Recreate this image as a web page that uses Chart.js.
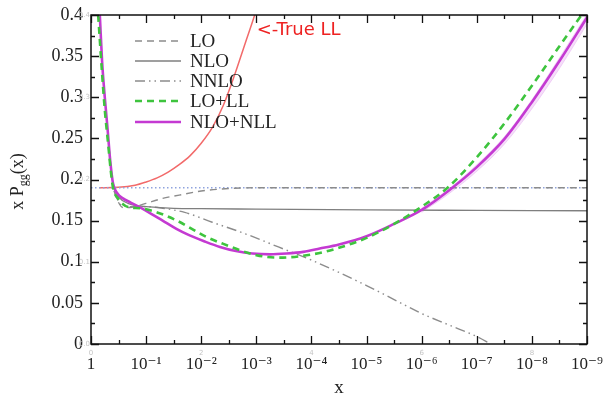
<!DOCTYPE html>
<html>
<head>
<meta charset="utf-8">
<script src="https://cdn.jsdelivr.net/npm/chart.js@4.4.1/dist/chart.umd.min.js"></script>
<style>
  html, body { margin: 0; padding: 0; background: #fff; }
</style>
</head>
<body>
<canvas id="pgg-chart" width="605" height="401"></canvas>
<script>
// x axis is in decades: d = log10(1/x), so d = 0 is x = 1 and d = 9 is x = 1e-9
const decadeTicks = [0, 1, 2, 3, 4, 5, 6, 7, 8, 9];
const yTicks = [0, 0.05, 0.1, 0.15, 0.2, 0.25, 0.3, 0.35, 0.4];
const legendLabels = ['LO', 'NLO', 'NNLO', 'LO+LL', 'NLO+NLL'];

const loDec = [0.42, 0.5, 0.58, 0.7, 0.85, 1.0, 1.3, 1.6, 2.0, 2.5, 3.0, 4.0, 6.0, 9.0];
const loVal = [0.186, 0.172, 0.166, 0.166, 0.168, 0.171, 0.177, 0.181, 0.186, 0.189, 0.190, 0.190, 0.190, 0.190];

const nloDec = [0.4, 0.5, 0.67, 0.85, 1.0, 1.5, 2.0, 3.0, 5.0, 7.0, 9.0];
const nloVal = [0.192, 0.179, 0.171, 0.168, 0.167, 0.165, 0.1645, 0.164, 0.163, 0.1625, 0.162];

const nnloDec = [0.42, 0.5, 0.56, 0.8, 1.0, 1.3, 1.7, 2.2, 2.8, 3.4, 4.0, 4.5, 5.0, 5.5, 6.0, 6.5, 7.0, 7.25];
const nnloVal = [0.186, 0.173, 0.168, 0.167, 0.167, 0.165, 0.160, 0.148, 0.134, 0.118, 0.102, 0.087, 0.071, 0.054, 0.037, 0.023, 0.009, 0.0];

const loLlDec = [0.13, 0.2, 0.25, 0.31, 0.36, 0.4, 0.5, 0.6, 0.7, 0.89, 1.2, 1.56, 2.1, 2.39, 3.0, 3.42, 4.02, 4.5, 5.0, 5.5, 6.0, 6.47, 7.0, 7.5, 8.0, 8.5, 8.9];
const loLlVal = [0.4, 0.33, 0.285, 0.244, 0.21, 0.19, 0.176, 0.169, 0.166, 0.165, 0.160, 0.150, 0.130, 0.122, 0.108, 0.105, 0.109, 0.117, 0.129, 0.146, 0.167, 0.19, 0.227, 0.268, 0.314, 0.362, 0.4];

const nloNllDec = [0.16, 0.2, 0.25, 0.3, 0.35, 0.4, 0.48, 0.58, 0.72, 0.89, 1.1, 1.3, 1.55, 1.79, 2.05, 2.34, 2.63, 2.93, 3.25, 3.55, 3.85, 4.15, 4.5, 5.0, 5.5, 6.0, 6.5, 7.0, 7.5, 8.0, 8.5, 9.0];
const nloNllVal = [0.40, 0.345, 0.30, 0.262, 0.222, 0.195, 0.183, 0.177, 0.172, 0.166, 0.158, 0.150, 0.140, 0.132, 0.125, 0.118, 0.113, 0.110, 0.109, 0.110, 0.112, 0.116, 0.121, 0.131, 0.146, 0.163, 0.187, 0.215, 0.249, 0.294, 0.344, 0.397];

// uncertainty band around NLO+NLL (only visible at small x)
const bandDec = [6.0, 6.5, 7.0, 7.5, 8.0, 8.5, 9.0];
const bandUpper = [0.165, 0.189, 0.218, 0.252, 0.297, 0.348, 0.401];
const bandLower = [0.160, 0.183, 0.210, 0.243, 0.286, 0.335, 0.389];

const trueLlDec = [0.15, 0.5, 0.8, 1.0, 1.2, 1.4, 1.6, 1.8, 2.0, 2.2, 2.4, 2.6, 2.8, 2.97, 3.05];
const trueLlVal = [0.19, 0.1905, 0.193, 0.197, 0.202, 0.209, 0.218, 0.229, 0.244, 0.263, 0.290, 0.326, 0.366, 0.40, 0.418];

const asymDec = [0, 9];
const asymVal = [0.19, 0.19];

const pts = (xs, ys) => xs.map((x, i) => ({ x: x, y: ys[i] }));

const SUP = { '-': '\u207B', '0': '\u2070', '1': '\u00B9', '2': '\u00B2', '3': '\u00B3', '4': '\u2074',
              '5': '\u2075', '6': '\u2076', '7': '\u2077', '8': '\u2078', '9': '\u2079' };
function decadeLabel(d) {
    if (d === 0) return '1';
    return '10' + String(-d).split('').map(c => SUP[c]).join('');
}

const serif = '"Liberation Serif", "DejaVu Serif", serif';

// frame with inward ticks on all four sides, plus legend and annotations
const decorations = {
    id: 'decorations',
    afterDraw(chart) {
        const ctx = chart.ctx;
        const xs = chart.scales.x, ys = chart.scales.y;
        const L = chart.chartArea.left, R = chart.chartArea.right;
        const T = chart.chartArea.top, B = chart.chartArea.bottom;

        ctx.save();
        ctx.strokeStyle = '#111';
        ctx.lineWidth = 1.5;
        ctx.strokeRect(L, T, R - L, B - T);

        ctx.lineWidth = 1.3;
        ctx.beginPath();
        for (let d = 0; d <= 9; d += 0.5) {
            const px = Math.round(xs.getPixelForValue(d)) + 0.5;
            const len = Number.isInteger(d) ? 8 : 4;
            ctx.moveTo(px, B); ctx.lineTo(px, B - len);
            ctx.moveTo(px, T); ctx.lineTo(px, T + len);
        }
        for (let k = 0; k <= 16; k++) {
            const py = Math.round(ys.getPixelForValue(k * 0.025)) + 0.5;
            const len = k % 2 === 0 ? 8 : 4;
            ctx.moveTo(L, py); ctx.lineTo(L + len, py);
            ctx.moveTo(R, py); ctx.lineTo(R - len, py);
        }
        ctx.stroke();

        // faint leftover labels from the original plot
        ctx.fillStyle = '#c4c4c4';
        ctx.font = '7px "DejaVu Sans", sans-serif';
        ctx.textBaseline = 'middle';
        ctx.textAlign = 'center';
        [0, 2, 4, 6, 8].forEach(d => ctx.fillText(String(d), xs.getPixelForValue(d), B + 9));
        ctx.textAlign = 'right';
        [0, 0.1, 0.2, 0.3, 0.4].forEach(v => ctx.fillText(v.toFixed(1), L - 1, ys.getPixelForValue(v)));

        // legend
        const rowsY = [41, 61, 81, 101, 122];
        legendLabels.forEach((lab, i) => {
            const ds = chart.data.datasets.find(s => s.label === lab);
            ctx.strokeStyle = ds.borderColor;
            ctx.lineWidth = ds.borderWidth;
            ctx.setLineDash(ds.borderDash || []);
            ctx.beginPath();
            ctx.moveTo(135, rowsY[i]);
            ctx.lineTo(181, rowsY[i]);
            ctx.stroke();
            ctx.setLineDash([]);
            ctx.fillStyle = '#222';
            ctx.font = '19px ' + serif;
            ctx.textAlign = 'left';
            ctx.textBaseline = 'middle';
            ctx.fillText(lab, 190, rowsY[i] + 1);
        });

        // True LL annotation
        ctx.fillStyle = '#ee2222';
        ctx.font = '18px "DejaVu Sans", sans-serif';
        ctx.textAlign = 'left';
        ctx.textBaseline = 'middle';
        ctx.fillText('<-True LL', xs.getPixelForValue(2.97) + 2, ys.getPixelForValue(0.381));

        // y title with subscript
        ctx.fillStyle = '#222';
        ctx.translate(23, (T + B) / 2 + 2);
        ctx.rotate(-Math.PI / 2);
        const big = '18px ' + serif, small = '12px ' + serif;
        ctx.font = big;
        const w1 = ctx.measureText('x P').width, w3 = ctx.measureText('(x)').width;
        ctx.font = small;
        const w2 = ctx.measureText('gg').width;
        let x0 = -(w1 + w2 + w3) / 2;
        ctx.textBaseline = 'alphabetic';
        ctx.font = big;
        ctx.fillText('x P', x0, 0);
        ctx.font = small;
        ctx.fillText('gg', x0 + w1, 4);
        ctx.font = big;
        ctx.fillText('(x)', x0 + w1 + w2, 0);
        ctx.restore();
    }
};

const ctx = document.getElementById('pgg-chart').getContext('2d');

new Chart(ctx, {
    type: 'line',
    data: {
        datasets: [
            {
                label: 'band-lower', data: pts(bandDec, bandLower),
                borderColor: 'rgba(220,150,235,0.35)', borderWidth: 1,
                backgroundColor: 'rgba(220,150,235,0.35)', fill: false, order: 11
            },
            {
                label: 'band-upper', data: pts(bandDec, bandUpper),
                borderColor: 'rgba(220,150,235,0.35)', borderWidth: 1,
                backgroundColor: 'rgba(225,160,238,0.35)', fill: '-1', order: 10
            },
            {
                label: 'True LL', data: pts(trueLlDec, trueLlVal),
                borderColor: '#f26a6a', borderWidth: 1.5, order: 9
            },
            {
                label: 'asymptote', data: pts(asymDec, asymVal),
                borderColor: '#8fa3de', borderWidth: 1.6, borderDash: [1.5, 2.5], order: 8
            },
            {
                label: 'LO', data: pts(loDec, loVal),
                borderColor: '#8c8c8c', borderWidth: 1.4, borderDash: [7, 5], order: 7
            },
            {
                label: 'NNLO', data: pts(nnloDec, nnloVal),
                borderColor: '#8c8c8c', borderWidth: 1.4, borderDash: [10, 4, 1.5, 4, 1.5, 4], order: 6
            },
            {
                label: 'NLO', data: pts(nloDec, nloVal),
                borderColor: '#7f7f7f', borderWidth: 1.3, order: 5
            },
            {
                label: 'NLO+NLL', data: pts(nloNllDec, nloNllVal),
                borderColor: '#c43ad2', borderWidth: 2.6, order: 2
            },
            {
                label: 'LO+LL', data: pts(loLlDec, loLlVal),
                borderColor: '#3ec43e', borderWidth: 2.6, borderDash: [7, 5], order: 1
            }
        ]
    },
    options: {
        responsive: false,
        animation: false,
        layout: { padding: { top: 15, right: 18, left: 0, bottom: 0 } },
        elements: {
            point: { radius: 0 },
            line: { cubicInterpolationMode: 'monotone', fill: false }
        },
        scales: {
            x: {
                type: 'linear',
                min: 0,
                max: 9,
                afterFit: s => { s.height = 57; s.paddingLeft = 0; s.paddingRight = 0; },
                afterBuildTicks: s => { s.ticks = decadeTicks.map(v => ({ value: v })); },
                grid: { display: false, drawTicks: false },
                border: { display: false },
                ticks: {
                    padding: 10,
                    maxRotation: 0,
                    autoSkip: false,
                    color: '#222',
                    font: { family: serif, size: 17 },
                    callback: v => decadeLabel(v)
                },
                title: {
                    display: true,
                    text: 'x',
                    color: '#222',
                    padding: { top: 0, bottom: 2 },
                    font: { family: serif, size: 19 }
                }
            },
            y: {
                type: 'linear',
                min: 0,
                max: 0.4,
                afterFit: s => { s.width = 91; s.paddingTop = 0; s.paddingBottom = 0; },
                afterBuildTicks: s => { s.ticks = yTicks.map(v => ({ value: v })); },
                grid: { display: false, drawTicks: false },
                border: { display: false },
                ticks: {
                    padding: 8,
                    color: '#222',
                    font: { family: serif, size: 18 },
                    callback: v => String(+v.toFixed(2))
                }
            }
        },
        plugins: {
            legend: { display: false },
            tooltip: { enabled: false }
        }
    },
    plugins: [decorations]
});
</script>
</body>
</html>
